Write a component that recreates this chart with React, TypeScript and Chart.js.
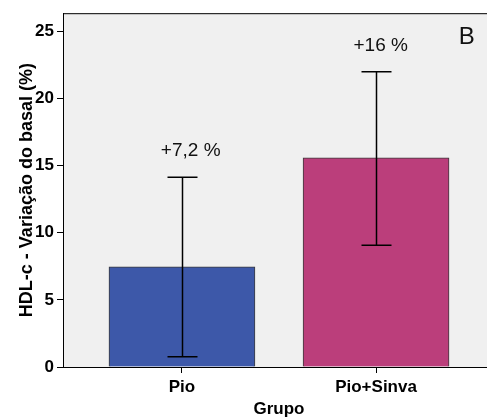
import { useEffect, useRef } from "react";
import { Chart, registerables } from "chart.js";
Chart.register(...registerables);

const categories = ["Pio", "Pio+Sinva"];
const means = [7.46, 15.57];
const errLow = [0.76, 9.07];
const errHigh = [14.13, 21.99];
const pctLabels = ["+7,2 %", "+16 %"];
const pctLabelY = [16.1, 23.9];
const pctLabelX = [0.045, 1.024];
const yTicks = [0, 5, 10, 15, 20, 25];
const panelLetter = "B";
const panelX = 1.467;
const panelY = 24.56;
const barColors = ["#3d58a9", "#bb3e7b"];

const FONT = "'Liberation Sans', Arial, sans-serif";

export default function App() {
  const ref = useRef<HTMLCanvasElement | null>(null);
  useEffect(() => {
    const canvas = ref.current!;
    const bgPlugin = {
      id: "bg",
      beforeDraw(chart: any) {
        const { ctx, chartArea: a } = chart;
        ctx.save();
        ctx.fillStyle = "#f0f0f0";
        ctx.fillRect(a.left, a.top, a.right - a.left, a.bottom - a.top);
        ctx.restore();
      },
      afterDraw(chart: any) {
        const { ctx, chartArea: a } = chart;
        ctx.save();
        ctx.strokeStyle = "#000";
        ctx.lineWidth = 1;
        ctx.beginPath();
        ctx.moveTo(a.left, a.top + 0.5);
        ctx.lineTo(a.right, a.top + 0.5);
        ctx.stroke();
        ctx.restore();
      },
    };
    const errPlugin = {
      id: "err",
      afterDatasetsDraw(chart: any) {
        const { ctx } = chart;
        const xs = chart.scales.x;
        const ys = chart.scales.y;
        ctx.save();
        ctx.strokeStyle = "#000";
        ctx.lineWidth = 1.5;
        categories.forEach((_, i) => {
          const x = Math.round(xs.getPixelForValue(i)) + 0.5;
          const y1 = ys.getPixelForValue(errLow[i]);
          const y2 = ys.getPixelForValue(errHigh[i]);
          ctx.beginPath();
          ctx.moveTo(x, y1);
          ctx.lineTo(x, y2);
          ctx.moveTo(x - 15, y1);
          ctx.lineTo(x + 15, y1);
          ctx.moveTo(x - 15, y2);
          ctx.lineTo(x + 15, y2);
          ctx.stroke();
        });
        ctx.fillStyle = "#111";
        ctx.textAlign = "center";
        ctx.textBaseline = "middle";
        ctx.font = `19px ${FONT}`;
        pctLabels.forEach((t, i) => {
          ctx.fillText(t, xs.getPixelForValue(pctLabelX[i]), ys.getPixelForValue(pctLabelY[i]));
        });
        ctx.font = `24px ${FONT}`;
        ctx.fillText(panelLetter, xs.getPixelForValue(panelX), ys.getPixelForValue(panelY));
        ctx.restore();
      },
    };
    const chart = new Chart(canvas, {
      type: "bar",
      data: {
        datasets: [
          {
            data: means.map((v, i) => ({ x: i, y: v })),
            backgroundColor: barColors,
            borderColor: "#3a3a3a",
            borderWidth: 1,
            barThickness: 146,
          },
        ],
      },
      options: {
        animation: false,
        responsive: false,
        layout: { padding: { left: 0, top: 12, right: 5, bottom: 0 } },
        plugins: { legend: { display: false }, tooltip: { enabled: false } },
        scales: {
          x: {
            type: "linear",
            offset: false,
            min: -0.613,
            max: 1.613,
            afterBuildTicks: (s: any) => {
              s.ticks = categories.map((_, i) => ({ value: i }));
            },
            afterFit: (s: any) => {
              s.height = 52;
            },
            ticks: {
              autoSkip: false,
              maxRotation: 0,
              padding: 4,
              color: "#000",
              font: { family: FONT, size: 17, weight: "bold" },
              callback: (v: any) => categories[v as number] ?? "",
            },
            grid: { display: true, offset: false, drawOnChartArea: false, drawTicks: true, tickLength: 6, color: "#000", lineWidth: 1 },
            border: { display: true, color: "#000", width: 1 },
            title: {
              display: true,
              text: "Grupo",
              color: "#000",
              font: { family: FONT, size: 17, weight: "bold" },
              padding: { top: 0, bottom: -1 },
            },
          },
          y: {
            type: "linear",
            min: 0,
            max: 26.34,
            afterBuildTicks: (s: any) => {
              s.ticks = yTicks.map((v) => ({ value: v }));
            },
            afterFit: (s: any) => {
              s.width = 63;
            },
            ticks: {
              padding: 3,
              color: "#000",
              font: { family: FONT, size: 17, weight: "bold" },
            },
            grid: { display: true, drawOnChartArea: false, drawTicks: true, tickLength: 6, color: "#000", lineWidth: 1 },
            border: { display: true, color: "#000", width: 1 },
            title: {
              display: true,
              text: "HDL-c - Variação do basal (%)",
              color: "#000",
              font: { family: FONT, size: 18, weight: "bold" },
              padding: { top: 16, bottom: 0 },
            },
          },
        },
      },
      plugins: [bgPlugin, errPlugin],
    });
    return () => chart.destroy();
  }, []);
  return (
    <div style={{ position: "fixed", left: 0, top: 0, width: 487, height: 419, overflow: "hidden", background: "#fff" }}>
      <canvas ref={ref} width={500} height={419} style={{ width: 500, height: 419, display: "block" }} />
    </div>
  );
}
